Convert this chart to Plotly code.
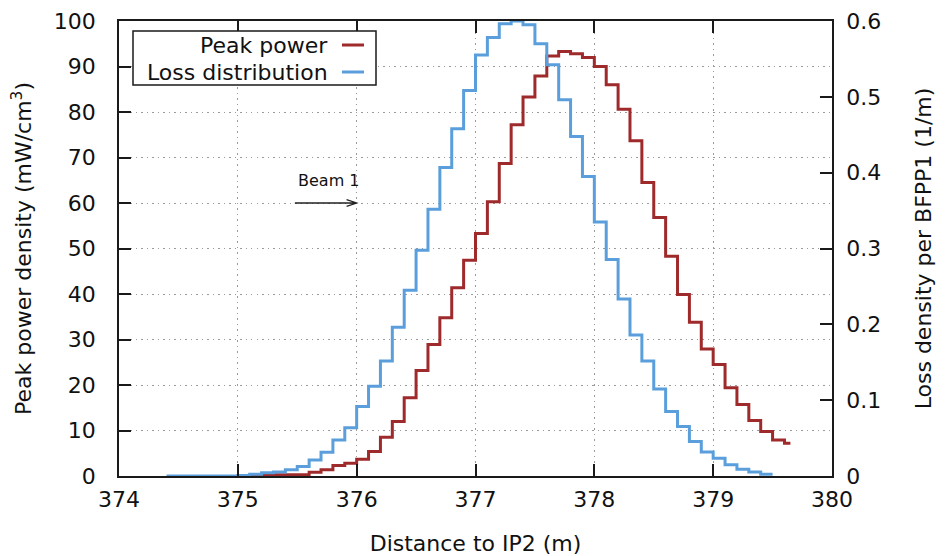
import plotly.graph_objects as go

# ---- data ----
peak_x = [375.1, 375.2, 375.3, 375.4, 375.5, 375.6, 375.7, 375.8, 375.9, 376.0,
          376.1, 376.2, 376.3, 376.4, 376.5, 376.6, 376.7, 376.8, 376.9, 377.0,
          377.1, 377.2, 377.3, 377.4, 377.5, 377.6, 377.7, 377.8, 377.9, 378.0,
          378.1, 378.2, 378.3, 378.4, 378.5, 378.6, 378.7, 378.8, 378.9, 379.0,
          379.1, 379.2, 379.3, 379.4, 379.5, 379.6]
peak_power = [0.1, 0.1, 0.3, 0.3, 0.3, 0.8, 1.4, 2.3, 2.8, 3.7,
              5.4, 8.5, 12.0, 17.2, 23.2, 28.9, 34.8, 41.4, 47.4, 53.3,
              60.3, 68.7, 77.2, 83.3, 87.9, 92.3, 93.3, 92.8, 92.0, 90.0,
              86.0, 80.6, 73.7, 64.5, 56.8, 48.3, 39.9, 33.8, 27.9, 24.5,
              19.4, 15.7, 12.2, 9.8, 7.9, 7.2]
peak_end = 379.65

loss_x = [374.4, 375.0, 375.1, 375.2, 375.3, 375.4, 375.5, 375.6, 375.7, 375.8, 375.9,
          376.0, 376.1, 376.2, 376.3, 376.4, 376.5, 376.6, 376.7, 376.8, 376.9,
          377.0, 377.1, 377.2, 377.3, 377.4, 377.5, 377.6, 377.7, 377.8, 377.9,
          378.0, 378.1, 378.2, 378.3, 378.4, 378.5, 378.6, 378.7, 378.8, 378.9,
          379.0, 379.1, 379.2, 379.3, 379.4]
loss_density = [0.0, 0.0006, 0.0024, 0.0042, 0.0054, 0.0084, 0.0126, 0.021, 0.0312, 0.0474, 0.0636,
                0.0918, 0.1182, 0.1518, 0.1962, 0.2448, 0.2976, 0.3516, 0.4068, 0.4578, 0.5082,
                0.555, 0.5784, 0.5964, 0.600, 0.5952, 0.570, 0.5424, 0.4962, 0.4476, 0.3948,
                0.3348, 0.2856, 0.2334, 0.186, 0.1518, 0.1146, 0.0852, 0.0654, 0.0456, 0.0318,
                0.0234, 0.015, 0.009, 0.0054, 0.0024]
loss_end = 379.5

x_ticks = [374, 375, 376, 377, 378, 379, 380]
y_ticks = [0, 10, 20, 30, 40, 50, 60, 70, 80, 90, 100]
y2_ticks = [0, 0.1, 0.2, 0.3, 0.4, 0.5, 0.6]
y2_labels = ["0", "0.1", "0.2", "0.3", "0.4", "0.5", "0.6"]

RED = "#9e2a2b"
BLUE = "#5a9fdb"
FONT = "DejaVu Sans"
FS = 22
AXC = "#1a1a1a"
GRID = "#9a9a9a"

fig = go.Figure()
fig.add_trace(go.Scatter(
    x=peak_x + [peak_end], y=peak_power + [peak_power[-1]],
    mode="lines", line=dict(color=RED, width=3, shape="hv"),
    name="Peak power", showlegend=False))
fig.add_trace(go.Scatter(
    x=loss_x + [loss_end], y=loss_density + [loss_density[-1]],
    mode="lines", line=dict(color=BLUE, width=3, shape="hv"),
    name="Loss distribution", yaxis="y2", showlegend=False))

# page body has an 8px margin: the figure is drawn 8px right/down
OFF = 8
W, H = 945 - OFF, 556 - OFF
L, T = 119 - OFF, 21 - OFF
R, B = W - (832 - OFF), H - (476 - OFF)
pw, ph = W - L - R, H - T - B
def px(x):   # screen px -> paper
    return (x - OFF - L) / pw
def py(y):
    return (H - B - (y - OFF)) / ph

shapes = [
    dict(type="rect", xref="paper", yref="paper", x0=px(133), x1=px(376),
         y0=py(85), y1=py(31), line=dict(color=AXC, width=1.5),
         fillcolor="white", layer="above"),
    dict(type="line", xref="paper", yref="paper", x0=px(342), x1=px(364),
         y0=py(45), y1=py(45), line=dict(color=RED, width=3), layer="above"),
    dict(type="line", xref="paper", yref="paper", x0=px(342), x1=px(364),
         y0=py(72), y1=py(72), line=dict(color=BLUE, width=3), layer="above"),
    # Beam 1 arrow
    dict(type="path", xref="x", yref="y",
         path="M 375.48 60 L 376.0 60 M 375.915 60.75 L 376.0 60 L 375.915 59.25",
         line=dict(color="#222222", width=1.3)),
]
annotations = [
    dict(xref="paper", yref="paper", x=px(330), y=py(45), text="Peak power",
         xanchor="right", yanchor="middle", showarrow=False,
         font=dict(family=FONT, size=FS, color="#111")),
    dict(xref="paper", yref="paper", x=px(330), y=py(72), text="Loss distribution",
         xanchor="right", yanchor="middle", showarrow=False,
         font=dict(family=FONT, size=FS, color="#111")),
    dict(xref="x", yref="y", x=375.49, y=65.0, text="Beam 1",
         xanchor="left", yanchor="middle", showarrow=False,
         font=dict(family=FONT, size=16, color="#111")),
]

axis_common = dict(
    showline=True, linecolor=AXC, linewidth=1.5,
    ticks="inside", ticklen=12, tickwidth=1.5, tickcolor=AXC,
    zeroline=False, automargin=False,
    tickfont=dict(family=FONT, size=FS, color="#111"),
)

fig.update_layout(
    width=W, height=H,
    margin=dict(l=L, r=R, t=T, b=B, autoexpand=False),
    paper_bgcolor="white", plot_bgcolor="white",
    font=dict(family=FONT, size=FS, color="#111"),
    showlegend=False,
    xaxis=dict(
        range=[374, 380], tickvals=x_ticks, mirror="ticks",
        showgrid=True, gridcolor=GRID, gridwidth=1, griddash="1.5px,4px",
        title=dict(text="Distance to IP2 (m)", standoff=25,
                   font=dict(family=FONT, size=FS, color="#111")),
        ticklabelstandoff=3,
        **axis_common),
    yaxis=dict(
        range=[0, 100], tickvals=y_ticks, mirror=False,
        showgrid=True, gridcolor=GRID, gridwidth=1, griddash="1.5px,4px",
        title=dict(text="Peak power density (mW/cm<sup>3</sup>)", standoff=28,
                   font=dict(family=FONT, size=FS, color="#111")),
        ticklabelstandoff=17,
        **axis_common),
    yaxis2=dict(
        range=[0, 0.6], tickvals=y2_ticks, ticktext=y2_labels,
        overlaying="y", side="right", showgrid=False,
        title=dict(text="Loss density per BFPP1 (1/m)", standoff=35,
                   font=dict(family=FONT, size=FS, color="#111")),
        ticklabelstandoff=8,
        **axis_common),
    shapes=shapes,
    annotations=annotations,
)

fig.write_html("out.html")
